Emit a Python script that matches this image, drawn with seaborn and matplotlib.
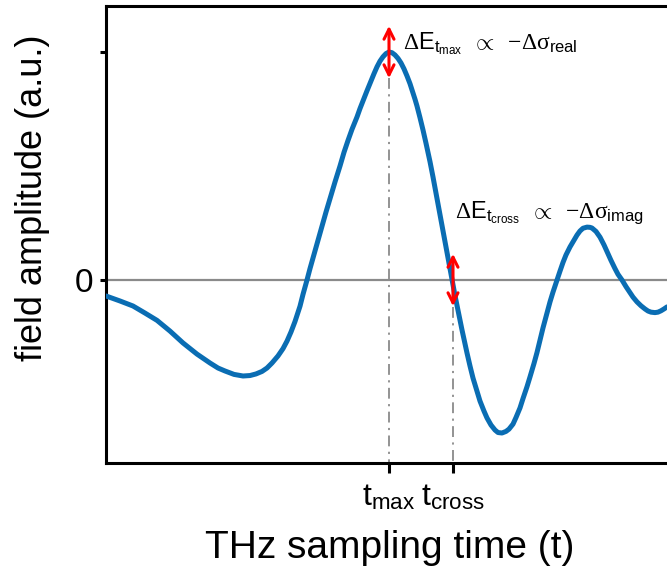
import matplotlib
matplotlib.use("Agg")
import matplotlib.pyplot as plt
import seaborn as sns
import pandas as pd

# ---- data ----
time = [0.00, 0.14, 0.27, 0.39, 0.51, 0.64, 0.77, 0.91, 1.04, 1.12, 1.19, 1.28,
        1.37, 1.44, 1.50, 1.56, 1.61, 1.66, 1.72, 1.77, 1.81, 1.85, 1.89, 1.94,
        1.97, 2.01, 2.04, 2.08, 2.12, 2.16, 2.20, 2.25, 2.29, 2.34, 2.38, 2.42,
        2.46, 2.51, 2.54, 2.58, 2.61, 2.64, 2.68, 2.71, 2.74, 2.77, 2.80, 2.83,
        2.86, 2.89, 2.92, 2.95, 2.98, 3.01, 3.04, 3.06, 3.09, 3.11, 3.14, 3.17,
        3.20, 3.24, 3.27, 3.31, 3.35, 3.39, 3.43, 3.46, 3.49, 3.52, 3.56, 3.61,
        3.64, 3.67, 3.71, 3.74, 3.78, 3.81, 3.85, 3.89, 3.92, 3.96, 4.00, 4.03,
        4.07, 4.10, 4.14, 4.17, 4.21, 4.24, 4.28, 4.31, 4.34, 4.37, 4.41, 4.44,
        4.47, 4.51, 4.54, 4.57, 4.60, 4.64, 4.68, 4.71, 4.74, 4.77, 4.81, 4.84,
        4.86, 4.90, 4.94, 4.98, 5.01, 5.05, 5.09, 5.12, 5.16, 5.20, 5.24, 5.27,
        5.31, 5.35, 5.39, 5.42, 5.45, 5.49, 5.52, 5.55, 5.58, 5.61]
field = [-0.070, -0.092, -0.114, -0.145, -0.177, -0.224, -0.276, -0.325, -0.364,
         -0.386, -0.399, -0.414, -0.421, -0.419, -0.412, -0.401, -0.386, -0.364,
         -0.333, -0.301, -0.268, -0.228, -0.182, -0.115, -0.063, 0.000, 0.050,
         0.112, 0.175, 0.237, 0.298, 0.372, 0.430, 0.500, 0.560, 0.612, 0.661,
         0.715, 0.752, 0.797, 0.830, 0.862, 0.905, 0.935, 0.960, 0.979, 0.993,
         1.000, 0.997, 0.987, 0.972, 0.952, 0.926, 0.895, 0.861, 0.834, 0.793,
         0.763, 0.712, 0.658, 0.600, 0.519, 0.452, 0.357, 0.262, 0.165, 0.070,
         0.000, -0.068, -0.132, -0.219, -0.320, -0.377, -0.430, -0.487, -0.531,
         -0.575, -0.605, -0.636, -0.658, -0.669, -0.671, -0.664, -0.654, -0.632,
         -0.603, -0.561, -0.520, -0.468, -0.425, -0.366, -0.318, -0.265, -0.210,
         -0.145, -0.096, -0.053, 0.000, 0.039, 0.077, 0.110, 0.145, 0.175, 0.197,
         0.215, 0.227, 0.232, 0.231, 0.228, 0.213, 0.188, 0.154, 0.125, 0.086,
         0.050, 0.025, 0.000, -0.029, -0.055, -0.075, -0.096, -0.113, -0.127,
         -0.136, -0.141, -0.143, -0.141, -0.135, -0.127, -0.118]

t_marks = [2.83, 3.47]
t_labels = [r"$\mathsf{t}_{\mathsf{max}}$", r"$\mathsf{t}_{\mathsf{cross}}$"]
y_ticks = [0.0, 1.0]
y_ticklabels = ["0", ""]
delta_E = 0.115        # half-length of the red double arrows
mark_start = [0.886, -0.118]   # where the dash-dot guides start
ann_texts = [r"$\Delta\mathsf{E}_{\mathsf{t}_{\mathsf{max}}}\;\;\propto\;\;{-}\Delta\sigma_{\mathsf{real}}$",
             r"$\Delta\mathsf{E}_{\mathsf{t}_{\mathsf{cross}}}\;\;\propto\;\;{-}\Delta\sigma_{\mathsf{imag}}$"]
ann_pos = [(2.97, 1.013), (3.49, 0.272)]

df = pd.DataFrame({"time": time, "field": field})

sns.set_style("ticks")
plt.rcParams["font.family"] = ["Liberation Sans", "DejaVu Sans"]
plt.rcParams["mathtext.fontset"] = "custom"
plt.rcParams["mathtext.rm"] = "Liberation Serif"
plt.rcParams["mathtext.it"] = "Liberation Serif"
plt.rcParams["mathtext.sf"] = "Liberation Sans"
plt.rcParams["text.color"] = "black"
plt.rcParams["axes.labelcolor"] = "black"
plt.rcParams["xtick.color"] = "black"
plt.rcParams["ytick.color"] = "black"

fig = plt.figure(figsize=(6.67, 5.77), dpi=100)
ax = fig.add_axes([106 / 667, 1 - 463 / 577, 561 / 667, 457 / 577])

ax.axhline(0, color="#8a8a8a", lw=1.6, zorder=1)

for tm, ys in zip(t_marks, mark_start):
    ax.plot([tm, tm], [ys, -0.81], color="#8a8a8a", lw=1.3,
            linestyle=(0, (6, 3, 1.2, 3)), zorder=1)

sns.lineplot(data=df, x="time", y="field", ax=ax, color="#0a6db3", lw=3.6,
             zorder=3, sort=False, solid_joinstyle="round", solid_capstyle="round")

center_y = [1.0, 0.0]
for tm, cy in zip(t_marks, center_y):
    ax.annotate("", xy=(tm, cy + delta_E), xytext=(tm, cy - delta_E),
                arrowprops=dict(arrowstyle="<->", color="#ff0000", lw=2.2,
                                mutation_scale=18, shrinkA=0, shrinkB=0),
                zorder=5)

for txt, (x, y) in zip(ann_texts, ann_pos):
    ax.text(x, y, txt, fontsize=17, va="baseline", ha="left", zorder=6)

ax.set_xlim(0, 5.61)
ax.set_ylim(-0.8026, 1.2018)

ax.set_xticks(t_marks)
ax.set_xticklabels(t_labels, fontsize=23)
ax.set_yticks(y_ticks)
ax.set_yticklabels(y_ticklabels, fontsize=24)

ax.tick_params(axis="x", direction="out", length=7, width=2.2, pad=7, color="black")
ax.tick_params(axis="y", direction="out", length=4.5, width=2.2, pad=5, color="black")

for side in ["left", "top", "bottom"]:
    ax.spines[side].set_color("black")
    ax.spines[side].set_linewidth(2.2)
ax.spines["right"].set_visible(False)

ax.set_xlabel("THz sampling time (t)", fontsize=28)
ax.set_ylabel("field amplitude (a.u.)", fontsize=26)
ax.xaxis.set_label_coords(0.506, -0.147)
ax.yaxis.set_label_coords(-0.100, 0.58)

fig.savefig("out.png", dpi=100)
